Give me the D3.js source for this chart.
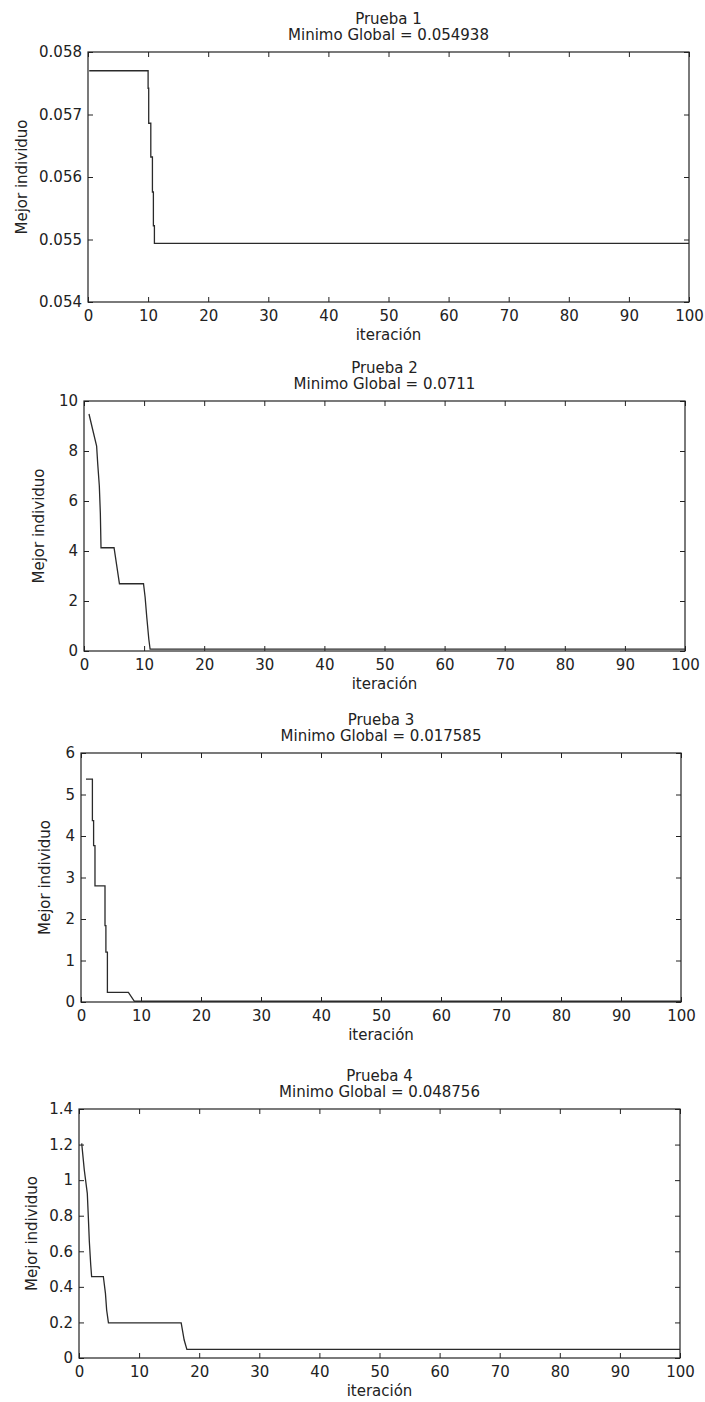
<!DOCTYPE html>
<html>
<head>
<meta charset="utf-8">
<script src="https://cdn.jsdelivr.net/npm/d3@7"></script>
<style>
  body { margin: 0; background: #fff; }
  svg text { font-family: "DejaVu Sans", sans-serif; fill: #222; }
</style>
</head>
<body>
<div id="chart"></div>
<script>
// valores (vertices de la curva del mejor individuo)
const xTicks = [0, 10, 20, 30, 40, 50, 60, 70, 80, 90, 100];

const prueba1X = [0.2, 10, 10, 10.1, 10.1, 10.45, 10.45, 10.72, 10.72, 10.88, 10.88, 11.05, 11.05, 100];
const prueba1Y = [0.05770, 0.05770, 0.05742, 0.05742, 0.05686, 0.05686, 0.05632, 0.05632, 0.05576, 0.05576, 0.05522, 0.05522, 0.054938, 0.054938];
const prueba1Ticks = [0.054, 0.055, 0.056, 0.057, 0.058];

const prueba2X = [0.83, 1.5, 2.1, 2.28, 2.55, 2.72, 2.83, 5.0, 5.9, 9.9, 10.17, 10.45, 10.78, 11, 100];
const prueba2Y = [9.48, 8.8, 8.2, 7.5, 6.6, 5.5, 4.13, 4.13, 2.69, 2.69, 2.15, 1.34, 0.48, 0.0711, 0.0711];
const prueba2Ticks = [0, 2, 4, 6, 8, 10];

const prueba3X = [0.83, 1.9, 1.9, 2.1, 2.1, 2.33, 2.33, 2.6, 2.6, 4.0, 4.0, 4.15, 4.15, 4.4, 4.4, 4.55, 4.55, 7.9, 8.9, 100];
const prueba3Y = [5.37, 5.37, 4.37, 4.37, 3.77, 3.77, 2.8, 2.8, 2.8, 2.8, 1.84, 1.84, 1.2, 1.2, 0.23, 0.23, 0.23, 0.23, 0.0176, 0.0176];
const prueba3Ticks = [0, 1, 2, 3, 4, 5, 6];

const prueba4X = [0.45, 0.45, 0.88, 0.88, 1.38, 1.38, 1.55, 1.55, 1.72, 1.72, 1.95, 1.95, 2.1, 4.05, 4.4, 4.6, 4.9, 17.0, 17.5, 17.95, 100];
const prueba4Y = [1.207, 1.207, 1.057, 1.057, 0.926, 0.926, 0.795, 0.795, 0.655, 0.655, 0.524, 0.524, 0.458, 0.458, 0.363, 0.27, 0.198, 0.198, 0.101, 0.0488, 0.0488];
const prueba4Ticks = [0, 0.2, 0.4, 0.6, 0.8, 1, 1.2, 1.4];

const titulos = ["Prueba 1", "Prueba 2", "Prueba 3", "Prueba 4"];
const minimos = ["0.054938", "0.0711", "0.017585", "0.048756"];

// posicion de cada eje en la pagina
const paneles = [
  { left: 88, right: 689, top: 52,   bottom: 302,  ylab: 27, xs: prueba1X, ys: prueba1Y, ticks: prueba1Ticks, fmt: d3.format(".3f") },
  { left: 84, right: 685, top: 401,  bottom: 651,  ylab: 44, xs: prueba2X, ys: prueba2Y, ticks: prueba2Ticks, fmt: d3.format("~g") },
  { left: 81, right: 681, top: 753,  bottom: 1002, ylab: 50, xs: prueba3X, ys: prueba3Y, ticks: prueba3Ticks, fmt: d3.format("~g") },
  { left: 79, right: 680, top: 1109, bottom: 1358, ylab: 37, xs: prueba4X, ys: prueba4Y, ticks: prueba4Ticks, fmt: d3.format("~g") }
];

const svg = d3.select("#chart").append("svg")
  .attr("width", 705)
  .attr("height", 1402);

const FS = 15;

paneles.forEach((p, i) => {
  const x = d3.scaleLinear().domain([0, 100]).range([p.left, p.right]);
  const yDom = d3.extent(p.ticks);
  const y = d3.scaleLinear().domain(yDom).range([p.bottom, p.top]);

  const g = svg.append("g");

  // ticks hacia adentro en los 4 lados (estilo matlab)
  const abajo = g.append("g").attr("transform", `translate(0,${p.bottom})`)
    .call(d3.axisBottom(x).tickValues(xTicks).tickSize(-5).tickPadding(8));
  const arriba = g.append("g").attr("transform", `translate(0,${p.top})`)
    .call(d3.axisTop(x).tickValues(xTicks).tickSize(-5).tickFormat(""));
  const izq = g.append("g").attr("transform", `translate(${p.left},0)`)
    .call(d3.axisLeft(y).tickValues(p.ticks).tickSize(-5).tickPadding(6).tickFormat(p.fmt));
  const der = g.append("g").attr("transform", `translate(${p.right},0)`)
    .call(d3.axisRight(y).tickValues(p.ticks).tickSize(-5).tickFormat(""));

  [abajo, arriba, izq, der].forEach(a => {
    a.select(".domain").remove();
    a.selectAll("line").attr("stroke", "#222");
    a.selectAll("text").attr("font-size", FS).attr("font-family", "DejaVu Sans").attr("fill", "#222");
  });

  g.append("rect")
    .attr("x", p.left).attr("y", p.top)
    .attr("width", p.right - p.left).attr("height", p.bottom - p.top)
    .attr("fill", "none").attr("stroke", "#222").attr("stroke-width", 1.2);

  const pts = p.xs.map((v, k) => [v, p.ys[k]]);
  const linea = d3.line().x(d => x(d[0])).y(d => y(d[1]));
  g.append("path")
    .attr("d", linea(pts))
    .attr("fill", "none")
    .attr("stroke", "#2a2a2a")
    .attr("stroke-width", 1.3);

  const cx = (p.left + p.right) / 2;
  g.append("text").attr("x", cx).attr("y", p.top - 28)
    .attr("text-anchor", "middle").attr("font-size", FS).text(titulos[i]);
  g.append("text").attr("x", cx).attr("y", p.top - 12)
    .attr("text-anchor", "middle").attr("font-size", FS).text("Minimo Global = " + minimos[i]);

  g.append("text").attr("x", cx).attr("y", p.bottom + 38)
    .attr("text-anchor", "middle").attr("font-size", FS).text("iteración");

  g.append("text")
    .attr("transform", `translate(${p.ylab},${(p.top + p.bottom) / 2}) rotate(-90)`)
    .attr("text-anchor", "middle").attr("font-size", FS).text("Mejor individuo");
});
</script>
</body>
</html>
